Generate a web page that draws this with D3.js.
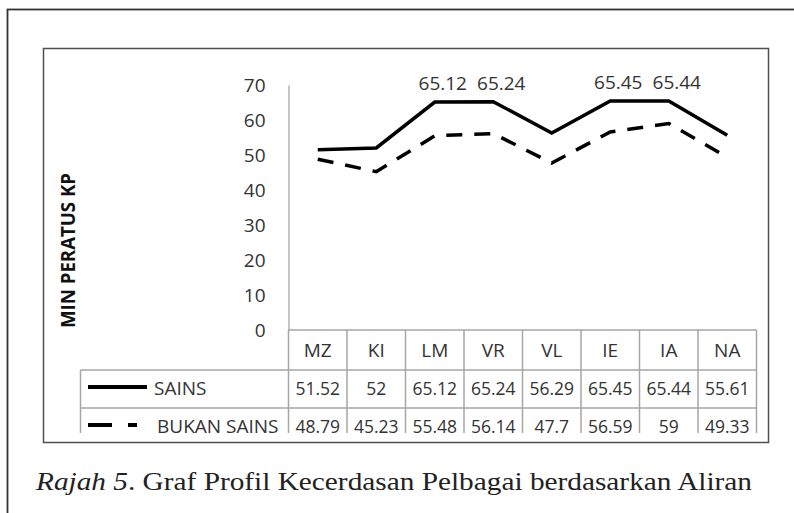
<!DOCTYPE html>
<html>
<head>
<meta charset="utf-8">
<script src="https://cdn.jsdelivr.net/npm/d3@7"></script>
<style>
  body { margin: 0; background: #fff; }
  svg { display: block; }
  .tick text, .cell, .leg { font-family: "Open Sans", sans-serif; fill: #333; }
</style>
</head>
<body>
<svg id="chart"></svg>
<script>
/* categories and series */
const categories = ['MZ', 'KI', 'LM', 'VR', 'VL', 'IE', 'IA', 'NA']
const sains = [51.52, 52, 65.12, 65.24, 56.29, 65.45, 65.44, 55.61]
const bukanSains = [48.79, 45.23, 55.48, 56.14, 47.7, 56.59, 59, 49.33]
const sainsLabelled = ['LM', 'VR', 'IE', 'IA']
const seriesNames = ['SAINS', 'BUKAN SAINS']
const yTicks = [0, 10, 20, 30, 40, 50, 60, 70]

const width = 794
const height = 513

const svg = d3.select('#chart')
  .attr('width', width)
  .attr('height', height)

/* outer frame and chart frame */
svg.append('rect')
  .attr('x', 7.5).attr('y', 9.5)
  .attr('width', 800).attr('height', 520)
  .attr('fill', 'none').attr('stroke', '#333').attr('stroke-width', 1.8)

svg.append('rect')
  .attr('x', 43.5).attr('y', 48.5)
  .attr('width', 725).attr('height', 394)
  .attr('fill', 'none').attr('stroke', '#505050').attr('stroke-width', 1.5)

/* scales */
const x = d3.scaleBand()
  .domain(categories)
  .range([288.5, 756.5])

const y = d3.scaleLinear()
  .domain([0, 70])
  .range([330, 85])

/* y axis */
const yAxis = svg.append('g')
  .attr('transform', 'translate(288.5,0)')
  .call(d3.axisLeft(y).tickValues(yTicks).tickSize(0).tickPadding(23))

yAxis.select('.domain').attr('stroke', '#8c8c8c').attr('stroke-width', 1)
yAxis.selectAll('.tick text').attr('font-size', 19)

svg.append('text')
  .attr('transform', 'translate(75,250.5) rotate(-90)')
  .attr('text-anchor', 'middle')
  .attr('font-family', '"Open Sans", sans-serif')
  .attr('font-weight', 'bold')
  .attr('font-size', 19)
  .attr('textLength', 155)
  .attr('lengthAdjust', 'spacingAndGlyphs')
  .attr('fill', '#111')
  .text('MIN PERATUS KP')

/* lines */
const line = d3.line()
  .x((d, i) => x(categories[i]) + x.bandwidth() / 2)
  .y(d => y(d))

svg.append('path')
  .datum(sains)
  .attr('d', line)
  .attr('fill', 'none')
  .attr('stroke', '#000')
  .attr('stroke-width', 3.5)

svg.append('path')
  .datum(bukanSains)
  .attr('d', line)
  .attr('fill', 'none')
  .attr('stroke', '#000')
  .attr('stroke-width', 3.5)
  .attr('stroke-dasharray', '16,12')

/* data labels on the SAINS peaks */
svg.selectAll('.dlabel')
  .data(categories.filter(c => sainsLabelled.includes(c)))
  .enter().append('text')
  .attr('class', 'cell')
  .attr('x', c => x(c) + x.bandwidth() / 2 + 8)
  .attr('y', c => y(sains[categories.indexOf(c)]) - 12)
  .attr('text-anchor', 'middle')
  .attr('font-size', 19)
  .text(c => sains[categories.indexOf(c)])

/* data table */
const rowEdges = [330, 370, 408, 446]
const tableLeft = 80.5
const grid = '#a6a6a6'

const clip = svg.append('clipPath').attr('id', 'tclip')
clip.append('rect').attr('x', 0).attr('y', 0).attr('width', width).attr('height', 433)

const table = svg.append('g').attr('clip-path', 'url(#tclip)')

// horizontal rules
table.append('line')
  .attr('x1', 288.5).attr('x2', 756.5)
  .attr('y1', rowEdges[0]).attr('y2', rowEdges[0])
  .attr('stroke', grid).attr('stroke-width', 1.5)

table.selectAll('.hrule')
  .data(rowEdges.slice(1, 3))
  .enter().append('line')
  .attr('x1', tableLeft).attr('x2', 756.5)
  .attr('y1', d => d).attr('y2', d => d)
  .attr('stroke', grid).attr('stroke-width', 1.5)

// vertical rules
table.selectAll('.vrule')
  .data(categories.slice(1).concat(['end']))
  .enter().append('line')
  .attr('x1', d => d === 'end' ? 756.5 : x(d))
  .attr('x2', d => d === 'end' ? 756.5 : x(d))
  .attr('y1', rowEdges[0]).attr('y2', rowEdges[3])
  .attr('stroke', grid).attr('stroke-width', 1.5)

table.append('line')
  .attr('x1', 288.5).attr('x2', 288.5)
  .attr('y1', rowEdges[0]).attr('y2', rowEdges[3])
  .attr('stroke', grid).attr('stroke-width', 1.5)

table.append('line')
  .attr('x1', tableLeft).attr('x2', tableLeft)
  .attr('y1', rowEdges[1]).attr('y2', rowEdges[3])
  .attr('stroke', grid).attr('stroke-width', 1.5)

// header row
table.selectAll('.hdr')
  .data(categories)
  .enter().append('text')
  .attr('class', 'cell')
  .attr('x', c => x(c) + x.bandwidth() / 2)
  .attr('y', 357)
  .attr('text-anchor', 'middle')
  .attr('font-size', 19)
  .text(c => c)

// value rows
const rows = [sains, bukanSains]
rows.forEach((vals, r) => {
  table.selectAll('.val' + r)
    .data(vals)
    .enter().append('text')
    .attr('class', 'cell')
    .attr('x', (d, i) => x(categories[i]) + x.bandwidth() / 2)
    .attr('y', rowEdges[r + 1] + 25)
    .attr('text-anchor', 'middle')
    .attr('font-size', 17.5)
    .text(d => d)

  const ly = rowEdges[r + 1] + 17
  table.append('line')
    .attr('x1', 88).attr('x2', r === 0 ? 147 : 137)
    .attr('y1', ly).attr('y2', ly)
    .attr('stroke', '#000').attr('stroke-width', 4)
    .attr('stroke-dasharray', r === 0 ? null : '24,16')

  table.append('text')
    .attr('class', 'leg')
    .attr('x', r === 0 ? 154 : 157)
    .attr('y', rowEdges[r + 1] + 25)
    .attr('font-size', 19)
    .text(seriesNames[r])
})

/* caption */
const cap = svg.append('text')
  .attr('x', 36).attr('y', 490)
  .attr('font-family', '"Liberation Serif", "Times New Roman", serif')
  .attr('font-size', 26)
  .attr('textLength', 716)
  .attr('lengthAdjust', 'spacingAndGlyphs')
  .attr('fill', '#222')

cap.append('tspan').attr('font-style', 'italic').text('Rajah 5')
cap.append('tspan').text('. Graf Profil Kecerdasan Pelbagai berdasarkan Aliran')
</script>
</body>
</html>
